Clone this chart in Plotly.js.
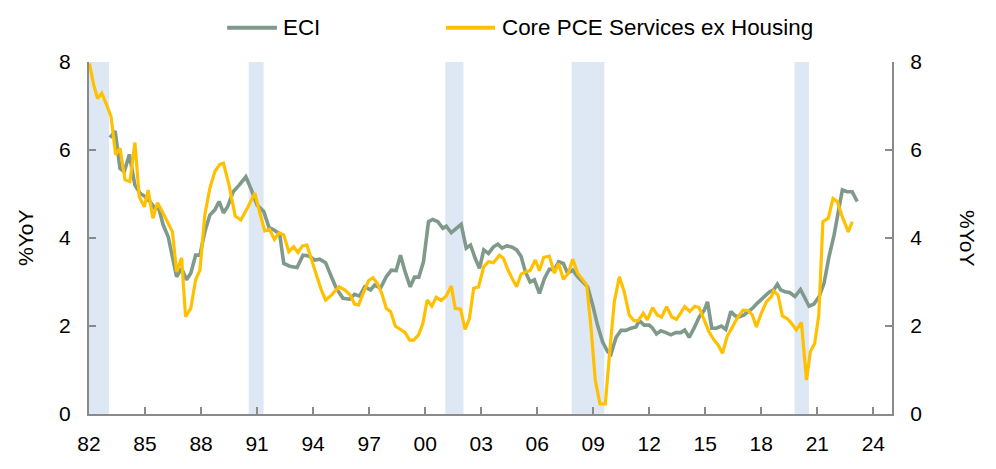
<!DOCTYPE html>
<html>
<head>
<meta charset="utf-8">
<script src="https://cdn.plot.ly/plotly-3.0.1.min.js"></script>
<style>
html,body{margin:0;padding:0;background:#fff;}
#chart{width:996px;height:469px;}
</style>
</head>
<body>
<div id="chart"></div>
<script>
// ---- Data ----
const eciYears = [1983.12,1983.40,1983.66,1983.89,1984.16,1984.46,1984.73,1985.00,1985.26,1985.53,1985.74,1985.97,1986.24,1986.45,1986.69,1986.96,1987.22,1987.45,1987.71,1987.94,1988.20,1988.47,1988.74,1988.97,1989.20,1989.42,1989.72,1990.04,1990.40,1990.70,1991.00,1991.36,1991.64,1991.95,1992.21,1992.43,1992.75,1993.14,1993.46,1993.78,1994.09,1994.35,1994.67,1994.98,1995.24,1995.60,1995.96,1996.22,1996.49,1996.76,1997.08,1997.29,1997.61,1997.92,1998.19,1998.45,1998.68,1998.93,1999.20,1999.43,1999.66,1999.91,2000.18,2000.41,2000.68,2000.95,2001.13,2001.40,2001.66,2001.93,2002.20,2002.43,2002.68,2002.91,2003.14,2003.39,2003.66,2003.89,2004.12,2004.37,2004.66,2004.90,2005.14,2005.37,2005.62,2005.85,2006.12,2006.39,2006.65,2006.92,2007.15,2007.40,2007.63,2007.90,2008.17,2008.43,2008.70,2008.97,2009.23,2009.50,2009.77,2009.95,2010.22,2010.49,2010.75,2011.02,2011.29,2011.47,2011.73,2012.00,2012.18,2012.39,2012.62,2012.89,2013.16,2013.42,2013.69,2013.90,2014.14,2014.40,2014.67,2014.95,2015.12,2015.35,2015.60,2015.86,2016.10,2016.37,2016.60,2016.81,2017.08,2017.31,2017.52,2017.79,2018.03,2018.24,2018.45,2018.68,2018.86,2019.04,2019.27,2019.52,2019.80,2020.10,2020.29,2020.56,2020.82,2021.10,2021.36,2021.63,2021.90,2022.13,2022.34,2022.60,2022.87,2023.14];
const eciValues = [6.28,6.43,5.58,5.51,5.90,5.20,5.02,4.94,4.83,4.67,4.67,4.30,4.03,3.61,3.12,3.31,3.05,3.20,3.61,3.61,4.14,4.52,4.64,4.83,4.57,4.71,5.05,5.20,5.39,5.09,4.75,4.60,4.24,4.17,4.09,3.42,3.36,3.33,3.61,3.59,3.50,3.52,3.44,3.12,2.86,2.63,2.61,2.72,2.68,2.89,2.82,2.93,2.86,3.12,3.27,3.26,3.61,3.23,2.89,3.11,3.11,3.46,4.37,4.42,4.37,4.22,4.27,4.12,4.22,4.31,3.77,3.84,3.54,3.31,3.73,3.65,3.80,3.86,3.77,3.82,3.79,3.73,3.58,3.23,3.00,3.05,2.74,3.08,3.29,3.27,3.46,3.42,3.20,3.27,3.12,3.00,2.89,2.48,2.02,1.64,1.42,1.36,1.74,1.90,1.90,1.95,1.98,2.12,2.02,2.02,1.95,1.82,1.89,1.85,1.80,1.85,1.85,1.91,1.74,1.95,2.20,2.36,2.55,1.95,1.95,2.00,1.92,2.33,2.23,2.21,2.25,2.33,2.40,2.52,2.61,2.70,2.78,2.83,2.95,2.82,2.78,2.76,2.67,2.83,2.67,2.45,2.50,2.67,2.97,3.58,4.07,4.56,5.09,5.05,5.05,4.83];

const pceYears = [1982.02,1982.25,1982.46,1982.68,1982.95,1983.18,1983.43,1983.66,1983.93,1984.19,1984.46,1984.69,1984.96,1985.17,1985.42,1985.67,1985.97,1986.24,1986.47,1986.69,1986.96,1987.17,1987.45,1987.71,1987.94,1988.20,1988.47,1988.74,1989.00,1989.20,1989.50,1989.83,1990.13,1990.52,1990.88,1991.14,1991.41,1991.66,1991.93,1992.18,1992.43,1992.70,1992.96,1993.19,1993.43,1993.67,1993.96,1994.21,1994.44,1994.67,1994.98,1995.39,1995.69,1996.00,1996.22,1996.44,1996.72,1996.97,1997.20,1997.44,1997.68,1997.92,1998.15,1998.40,1998.68,1998.93,1999.17,1999.39,1999.65,1999.88,2000.11,2000.36,2000.59,2000.86,2001.13,2001.40,2001.61,2001.90,2002.14,2002.37,2002.60,2002.86,2003.14,2003.39,2003.66,2003.98,2004.19,2004.42,2004.66,2004.90,2005.14,2005.37,2005.62,2005.90,2006.12,2006.35,2006.65,2006.92,2007.15,2007.40,2007.67,2007.90,2008.17,2008.43,2008.65,2008.88,2009.11,2009.36,2009.65,2009.86,2010.13,2010.40,2010.66,2010.93,2011.18,2011.41,2011.68,2011.90,2012.18,2012.43,2012.66,2012.93,2013.20,2013.46,2013.68,2013.90,2014.17,2014.44,2014.67,2014.92,2015.20,2015.47,2015.69,2015.92,2016.17,2016.46,2016.70,2017.02,2017.29,2017.52,2017.74,2018.00,2018.27,2018.54,2018.66,2018.90,2019.13,2019.38,2019.62,2019.88,2020.15,2020.42,2020.63,2020.86,2021.08,2021.30,2021.59,2021.84,2022.07,2022.34,2022.66,2022.87];
const pceValues = [7.97,7.48,7.17,7.29,7.02,6.76,5.89,6.04,5.32,5.28,6.17,4.94,4.71,5.09,4.45,4.80,4.56,4.33,4.14,3.23,3.55,2.21,2.40,3.05,3.27,4.52,5.13,5.51,5.67,5.70,5.20,4.50,4.41,4.71,5.02,4.58,4.16,4.20,3.97,4.12,4.07,3.69,3.80,3.67,3.82,3.84,3.42,3.12,2.82,2.59,2.70,2.89,2.82,2.70,2.50,2.48,2.78,3.03,3.10,2.97,2.74,2.40,2.33,2.00,1.92,1.85,1.68,1.68,1.80,2.06,2.59,2.45,2.65,2.58,2.68,2.91,2.40,2.38,1.92,2.17,2.86,2.89,3.35,3.46,3.44,3.61,3.54,3.29,3.08,2.89,3.18,3.23,3.26,3.50,3.26,3.56,3.59,3.20,3.42,3.06,3.20,3.52,3.20,3.05,2.93,1.98,0.77,0.23,0.23,1.30,2.55,3.12,2.78,2.25,2.12,2.12,2.29,2.14,2.42,2.25,2.20,2.44,2.21,2.15,2.29,2.44,2.33,2.45,2.42,2.14,1.87,1.68,1.57,1.38,1.76,1.98,2.17,2.36,2.35,2.25,1.98,2.29,2.55,2.67,2.80,2.70,2.23,2.17,2.06,1.91,2.08,0.77,1.42,1.60,2.25,4.37,4.45,4.90,4.83,4.48,4.14,4.37];

const recessionStarts = [1982.0, 1990.55, 2001.08, 2007.85, 2019.78];
const recessionEnds   = [1983.07, 1991.35, 2002.05, 2009.6, 2020.55];

const xTickVals  = [1982,1985,1988,1991,1994,1997,2000,2003,2006,2009,2012,2015,2018,2021,2024];
const xTickText  = ["82","85","88","91","94","97","00","03","06","09","12","15","18","21","24"];
const yTickVals  = [0,2,4,6,8];

const seriesNames = ["ECI", "Core PCE Services ex Housing"];
const seriesColors = ["#7f9a8b", "#ffc000"];

// ---- Chart ----
const FONT = "Liberation Sans, Arial, Helvetica, sans-serif";

const traces = [
  {x: eciYears, y: eciValues, name: seriesNames[0], type: "scatter", mode: "lines",
   line: {color: seriesColors[0], width: 3.6}, showlegend: false},
  {x: pceYears, y: pceValues, name: seriesNames[1], type: "scatter", mode: "lines",
   line: {color: seriesColors[1], width: 3.2}, showlegend: false},
  {x: [], y: [], yaxis: "y2", type: "scatter", mode: "lines", showlegend: false, hoverinfo: "skip"}
];

const shapes = recessionStarts.map((s, i) => ({
  type: "rect", xref: "x", yref: "paper", x0: s, x1: recessionEnds[i], y0: 0, y1: 1,
  fillcolor: "#dde8f4", line: {width: 0}, layer: "below"
}));

// custom legend samples
const legendY = 1.097;
shapes.push({type: "line", xref: "paper", yref: "paper", x0: 0.172, x1: 0.234, y0: legendY, y1: legendY,
  line: {color: seriesColors[0], width: 4}});
shapes.push({type: "line", xref: "paper", yref: "paper", x0: 0.4446, x1: 0.5056, y0: legendY, y1: legendY,
  line: {color: seriesColors[1], width: 4}});

const annotations = [
  {text: seriesNames[0], xref: "paper", yref: "paper", x: 0.2395, y: legendY, xanchor: "left", yanchor: "middle",
   showarrow: false, font: {family: FONT, size: 22.4, color: "#000"}},
  {text: seriesNames[1], xref: "paper", yref: "paper", x: 0.512, y: legendY, xanchor: "left", yanchor: "middle",
   showarrow: false, font: {family: FONT, size: 22.4, color: "#000"}},
  {text: "%YoY", xref: "paper", yref: "paper", x: -0.0797, y: 0.5, xanchor: "center", yanchor: "middle",
   textangle: -90, showarrow: false, font: {family: FONT, size: 21, color: "#000"}},
  {text: "%YoY", xref: "paper", yref: "paper", x: 1.0946, y: 0.5, xanchor: "center", yanchor: "middle",
   textangle: 90, showarrow: false, font: {family: FONT, size: 21, color: "#000"}}
];

const axisColor = "#8a8a8a";
const layout = {
  width: 996, height: 469,
  margin: {l: 89, r: 104, t: 62, b: 55, pad: 0},
  paper_bgcolor: "#fff", plot_bgcolor: "#fff",
  font: {family: FONT, size: 21, color: "#000"},
  showlegend: false,
  xaxis: {
    range: [1982, 2025], tickmode: "array", tickvals: xTickVals, ticktext: xTickText,
    ticks: "inside", ticklen: 7, tickwidth: 2, tickcolor: axisColor,
    showline: true, linecolor: axisColor, linewidth: 2, showgrid: false, zeroline: false,
    tickfont: {family: FONT, size: 21, color: "#000"}, ticklabelstandoff: 10
  },
  yaxis: {
    range: [0, 8], tickmode: "array", tickvals: yTickVals,
    ticks: "inside", ticklen: 7, tickwidth: 2, tickcolor: axisColor,
    showline: true, linecolor: axisColor, linewidth: 2, showgrid: false, zeroline: false,
    tickfont: {family: FONT, size: 21, color: "#000"}, ticklabelstandoff: 12
  },
  yaxis2: {
    range: [0, 8], tickmode: "array", tickvals: yTickVals, overlaying: "y", side: "right",
    ticks: "inside", ticklen: 7, tickwidth: 2, tickcolor: axisColor,
    showline: true, linecolor: axisColor, linewidth: 2, showgrid: false, zeroline: false,
    tickfont: {family: FONT, size: 21, color: "#000"}, ticklabelstandoff: 12
  },
  shapes: shapes,
  annotations: annotations
};

Plotly.newPlot("chart", traces, layout, {displayModeBar: false, staticPlot: true});
</script>
</body>
</html>
